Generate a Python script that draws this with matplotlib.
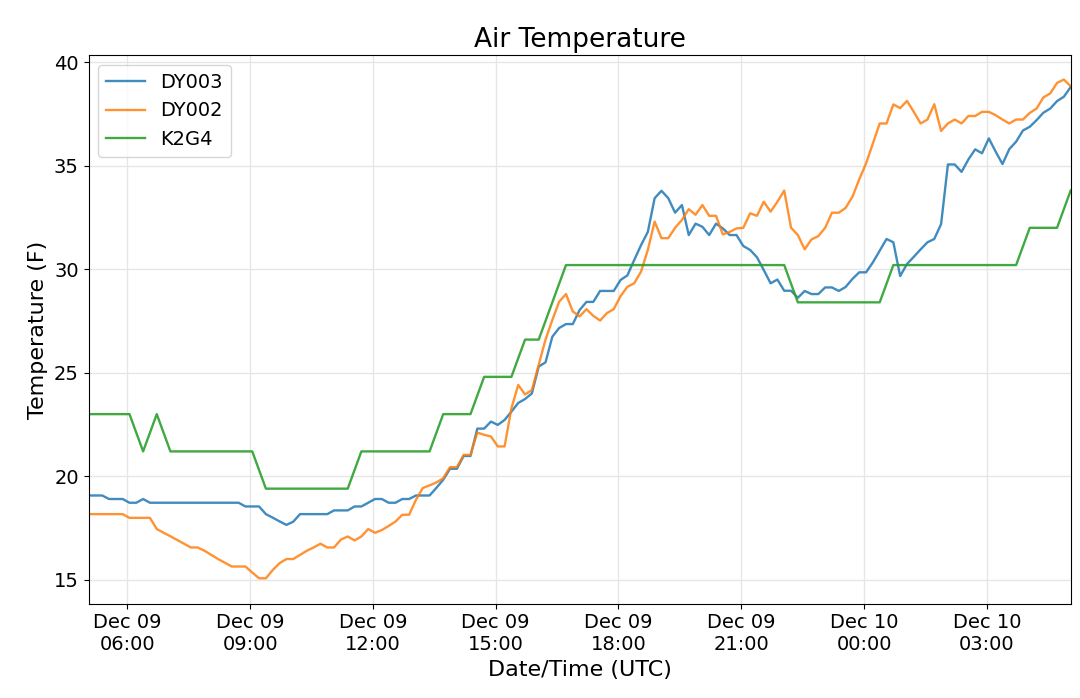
import matplotlib
matplotlib.use("Agg")
import matplotlib.pyplot as plt
import matplotlib.dates as mdates
import pandas as pd

times = pd.date_range("2019-12-09 05:03", periods=145, freq="10min")

dy003 = [
    19.07, 19.07, 19.07, 18.9, 18.9, 18.9, 18.72, 18.72, 18.9, 18.72,
    18.72, 18.72, 18.72, 18.72, 18.72, 18.72, 18.72, 18.72, 18.72, 18.72,
    18.72, 18.72, 18.72, 18.54, 18.54, 18.54, 18.17, 18.0, 17.82, 17.65,
    17.8, 18.17, 18.17, 18.17, 18.17, 18.17, 18.35, 18.35, 18.35, 18.54,
    18.54, 18.72, 18.9, 18.9, 18.72, 18.72, 18.9, 18.9, 19.07, 19.07,
    19.07, 19.44, 19.83, 20.36, 20.36, 20.98, 20.98, 22.3, 22.3, 22.64,
    22.48, 22.72, 23.12, 23.54, 23.73, 24.0, 25.3, 25.5, 26.74, 27.16,
    27.35, 27.35, 28.03, 28.42, 28.42, 28.95, 28.95, 28.95, 29.48, 29.7,
    30.44, 31.16, 31.8, 33.43, 33.79, 33.43, 32.73, 33.1, 31.65, 32.2,
    32.05, 31.65, 32.2, 31.97, 31.65, 31.65, 31.12, 30.93, 30.58, 29.96,
    29.32, 29.5, 28.96, 28.96, 28.62, 28.95, 28.8, 28.8, 29.12, 29.12,
    28.95, 29.14, 29.53, 29.85, 29.85, 30.33, 30.9, 31.46, 31.3, 29.67,
    30.25, 30.6, 30.96, 31.3, 31.46, 32.18, 35.06, 35.06, 34.7, 35.3,
    35.79, 35.6, 36.32, 35.68, 35.08, 35.8, 36.16, 36.7, 36.88, 37.2,
    37.56, 37.76, 38.12, 38.33, 38.8,
]

dy002 = [
    18.17, 18.17, 18.17, 18.17, 18.17, 18.17, 17.99, 17.99, 17.99, 17.99,
    17.45, 17.27, 17.1, 16.92, 16.74, 16.56, 16.56, 16.4, 16.2, 16.0,
    15.82, 15.64, 15.64, 15.64, 15.35, 15.07, 15.07, 15.47, 15.8, 16.0,
    16.0, 16.2, 16.4, 16.56, 16.74, 16.56, 16.56, 16.94, 17.09, 16.9,
    17.09, 17.45, 17.27, 17.4, 17.6, 17.81, 18.14, 18.14, 18.86, 19.43,
    19.56, 19.7, 19.9, 20.44, 20.44, 21.03, 21.03, 22.11, 22.0, 21.92,
    21.44, 21.44, 23.28, 24.41, 23.95, 24.16, 25.38, 26.6, 27.55, 28.43,
    28.8, 27.96, 27.72, 28.07, 27.75, 27.52, 27.88, 28.07, 28.7, 29.15,
    29.32, 29.88, 30.93, 32.3, 31.5, 31.5, 32.0, 32.38, 32.9, 32.63,
    33.1, 32.58, 32.58, 31.68, 31.8, 31.97, 32.0, 32.7, 32.58, 33.26,
    32.78, 33.26, 33.8, 32.0, 31.65, 30.96, 31.44, 31.6, 32.0, 32.73,
    32.73, 32.96, 33.5, 34.34, 35.11, 36.08, 37.04, 37.04, 37.96, 37.78,
    38.13, 37.6, 37.04, 37.23, 37.97, 36.68, 37.04, 37.23, 37.04, 37.4,
    37.4, 37.6, 37.6, 37.44, 37.23, 37.04, 37.23, 37.23, 37.55, 37.76,
    38.3, 38.49, 39.0, 39.16, 38.84,
]

k2g4 = [
    23.0, 23.0, 23.0, 23.0, 23.0, 23.0, 23.0, 22.1, 21.2, 22.1,
    23.0, 22.1, 21.2, 21.2, 21.2, 21.2, 21.2, 21.2, 21.2, 21.2,
    21.2, 21.2, 21.2, 21.2, 21.2, 20.3, 19.4, 19.4, 19.4, 19.4,
    19.4, 19.4, 19.4, 19.4, 19.4, 19.4, 19.4, 19.4, 19.4, 20.3,
    21.2, 21.2, 21.2, 21.2, 21.2, 21.2, 21.2, 21.2, 21.2, 21.2,
    21.2, 22.1, 23.0, 23.0, 23.0, 23.0, 23.0, 23.9, 24.8, 24.8,
    24.8, 24.8, 24.8, 25.7, 26.6, 26.6, 26.6, 27.5, 28.4, 29.3,
    30.2, 30.2, 30.2, 30.2, 30.2, 30.2, 30.2, 30.2, 30.2, 30.2,
    30.2, 30.2, 30.2, 30.2, 30.2, 30.2, 30.2, 30.2, 30.2, 30.2,
    30.2, 30.2, 30.2, 30.2, 30.2, 30.2, 30.2, 30.2, 30.2, 30.2,
    30.2, 30.2, 30.2, 29.3, 28.4, 28.4, 28.4, 28.4, 28.4, 28.4,
    28.4, 28.4, 28.4, 28.4, 28.4, 28.4, 28.4, 29.3, 30.2, 30.2,
    30.2, 30.2, 30.2, 30.2, 30.2, 30.2, 30.2, 30.2, 30.2, 30.2,
    30.2, 30.2, 30.2, 30.2, 30.2, 30.2, 30.2, 31.1, 32.0, 32.0,
    32.0, 32.0, 32.0, 32.9, 33.8,
]

fig = plt.figure(figsize=(10.8, 6.98), dpi=100)
ax = fig.add_axes([0.082, 0.135, 0.910, 0.786])

ax.plot(times, dy003, color="#1f77b4", linewidth=1.7, alpha=0.85, label="DY003")
ax.plot(times, dy002, color="#ff7f0e", linewidth=1.7, alpha=0.85, label="DY002")
ax.plot(times, k2g4, color="#2ca02c", linewidth=1.7, alpha=0.9, label="K2G4")

ax.set_xlim(times[0], times[-1] + pd.Timedelta(minutes=1))
ax.set_ylim(13.84, 40.34)
ax.xaxis.set_major_locator(mdates.HourLocator(byhour=[0, 3, 6, 9, 12, 15, 18, 21]))
ax.xaxis.set_major_formatter(mdates.DateFormatter("%b %d\n%H:%M"))
ax.grid(True, color="#e6e6e6", linewidth=1)
ax.tick_params(labelsize=14)

ax.set_title("Air Temperature", fontsize=19)
ax.set_xlabel("Date/Time (UTC)", fontsize=16)
ax.set_ylabel("Temperature (F)", fontsize=16)
ax.legend(loc="upper left", fontsize=14)

fig.savefig("out.png", dpi=100)
